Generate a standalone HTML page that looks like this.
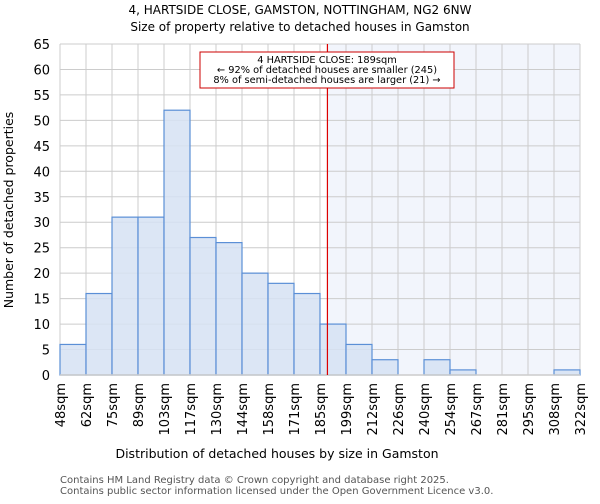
<!DOCTYPE html>
<html><head><meta charset="utf-8"><style>
body{margin:0;background:#fff;font-family:"DejaVu Sans","Liberation Sans",sans-serif;}
</style></head><body>
<svg width="600" height="500" xmlns="http://www.w3.org/2000/svg" font-family="DejaVu Sans, Liberation Sans, sans-serif">
<text x="300" y="14" text-anchor="middle" font-size="12">4, HARTSIDE CLOSE, GAMSTON, NOTTINGHAM, NG2 6NW</text>
<text x="300" y="31" text-anchor="middle" font-size="12">Size of property relative to detached houses in Gamston</text>
<g id="plot"></g>
<text x="277" y="458" text-anchor="middle" font-size="12.5">Distribution of detached houses by size in Gamston</text>
<text transform="translate(13,210) rotate(-90)" text-anchor="middle" font-size="12.5">Number of detached properties</text>
<text x="60" y="483" font-size="10" fill="#555">Contains HM Land Registry data © Crown copyright and database right 2025.</text>
<text x="60" y="494" font-size="10" fill="#555">Contains public sector information licensed under the Open Government Licence v3.0.</text>
</svg>
<script>
const binLabels=["48sqm","62sqm","75sqm","89sqm","103sqm","117sqm","130sqm","144sqm","158sqm","171sqm","185sqm","199sqm","212sqm","226sqm","240sqm","254sqm","267sqm","281sqm","295sqm","308sqm","322sqm"];
const binEdges=[48,62,75,89,103,117,130,144,158,171,185,199,212,226,240,254,267,281,295,308,322];
const counts=[6,16,31,31,52,27,26,20,18,16,10,6,3,0,3,1,0,0,0,1];
const yTicks=[0,5,10,15,20,25,30,35,40,45,50,55,60,65];
const propertySize=189;
const annotation=["4 HARTSIDE CLOSE: 189sqm","← 92% of detached houses are smaller (245)","8% of semi-detached houses are larger (21) →"];

const X0=60,X1=580,Y0=375,Y1=44,YMAX=65;
const NS="http://www.w3.org/2000/svg";
const g=document.getElementById('plot');
const bw=(X1-X0)/counts.length;
const xi=i=>X0+i*bw;
const y=v=>Y0-(v/YMAX)*(Y0-Y1);
function xv(v){for(let i=0;i<binEdges.length-1;i++){if(v<=binEdges[i+1])return xi(i)+(v-binEdges[i])/(binEdges[i+1]-binEdges[i])*bw;}return X1;}
function mk(t,a){const e=document.createElementNS(NS,t);for(const k in a)e.setAttribute(k,a[k]);g.appendChild(e);return e;}
const px=xv(propertySize);
let e=mk('rect',{x:px,y:Y1,width:X1-px,height:Y0-Y1,fill:'#f2f5fc'});


yTicks.forEach(t=>{
 let l=mk('line',{x1:X0,x2:X1,y1:y(t),y2:y(t),stroke:'#ccc','stroke-width':1});
 
 
 let tx=mk('text',{x:X0-10,y:y(t)+5,'text-anchor':'end','font-size':13});
 tx.textContent=t;
 
 
});
binLabels.forEach((b,i)=>{
 let l=mk('line',{x1:xi(i),x2:xi(i),y1:Y1,y2:Y0,stroke:'#ccc','stroke-width':1});
 
 
 let tx=mk('text',{transform:`translate(${xi(i)+5},${Y0+8}) rotate(-90)`,'text-anchor':'end','font-size':13});
 tx.textContent=b;
 
 
});
counts.forEach((c,i)=>{
 if(c<=0)return;
 let r=mk('rect',{x:xi(i),y:y(c),width:bw,height:Y0-y(c),fill:'#d6e2f3',stroke:'#5b8fd6','stroke-width':1.2,'fill-opacity':0.85});
 
 
});
let ax=mk('line',{x1:X0,x2:X1,y1:Y0,y2:Y0,stroke:'#ccc','stroke-width':1.5});


let rl=mk('line',{x1:px,x2:px,y1:Y1,y2:Y0,stroke:'#dd0000','stroke-width':1.2});


let box=mk('rect',{x:200,y:52,width:254,height:36,fill:'#fff',stroke:'#cc0000','stroke-width':1});


annotation.forEach((s,i)=>{
 let t=mk('text',{x:327,y:63+i*10,'text-anchor':'middle','font-size':9.8});
 t.textContent=s;
 
 
});
</script>
</body></html>
